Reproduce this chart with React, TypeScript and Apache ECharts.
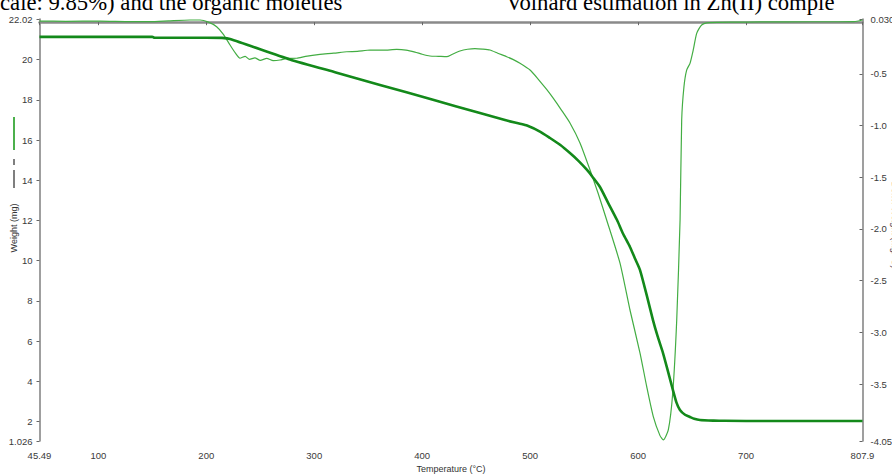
import React, { useEffect, useRef } from "react";
import * as echarts from "echarts";

// Temperature ticks
const xTicks = [45.49, 100, 200, 300, 400, 500, 600, 700, 807.9];
const leftTicks = [1.026, 2, 4, 6, 8, 10, 12, 14, 16, 18, 20, 22.02];
const rightTicks = [0.0307, -0.5, -1.0, -1.5, -2.0, -2.5, -3.0, -3.5, -4.051];

// Weight (mg) curve
const weightTemp = [45.49, 100, 150, 152, 200, 214.6, 222.0, 277.5, 320, 360.9, 410, 453.5, 476.7, 490.6, 497.1, 509.1, 518.4, 528, 536.9, 545, 552.7, 558, 564.7, 572, 580.5, 586, 592.5, 597, 601.8, 608, 613.8, 618, 623.1, 628, 632.3, 635.5, 638.8, 643.5, 648.1, 652, 657.3, 670, 680, 720, 807.9];
const weightValue = [21.13, 21.13, 21.13, 21.09, 21.09, 21.08, 21.03, 20.01, 19.36, 18.74, 18.0, 17.34, 16.99, 16.81, 16.72, 16.42, 16.10, 15.75, 15.35, 14.95, 14.51, 14.15, 13.66, 12.9, 12.02, 11.35, 10.68, 10.12, 9.53, 8.28, 7.04, 6.25, 5.40, 4.43, 3.56, 2.95, 2.57, 2.33, 2.22, 2.13, 2.07, 2.04, 2.03, 2.02, 2.02];

// Derivative weight (right axis) curve
const dtgTemp = [45.49, 70, 101.5, 130, 147.9, 165, 184.9, 194.2, 202, 209.6, 216, 222.0, 227, 231.2, 236, 240, 245, 250, 256, 262, 268.3, 275, 283.8, 292, 305.3, 318, 330.1, 340, 351.7, 364, 376.4, 385, 393.3, 400, 407.2, 415, 422.7, 428, 435.0, 442, 448.9, 456, 462.8, 470, 478.3, 484, 490.6, 499.9, 507, 515.3, 521.2, 529, 536.9, 546.2, 555.5, 562.9, 570.9, 583.2, 592.5, 601.8, 608.0, 614.1, 620.3, 623.4, 628.0, 632.1, 635.8, 638.9, 640.4, 642.5, 645.0, 648.1, 651.1, 654.3, 658.9, 666.3, 690, 713, 760, 800, 807.9];
const dtgValue = [0.011, 0.008, 0.011, 0.006, 0.006, 0.013, 0.021, 0.021, 0.0, -0.044, -0.12, -0.221, -0.3, -0.349, -0.33, -0.36, -0.345, -0.37, -0.35, -0.372, -0.366, -0.35, -0.349, -0.33, -0.311, -0.3, -0.286, -0.282, -0.269, -0.27, -0.264, -0.27, -0.289, -0.31, -0.327, -0.33, -0.334, -0.31, -0.279, -0.262, -0.255, -0.26, -0.269, -0.3, -0.334, -0.36, -0.398, -0.463, -0.545, -0.651, -0.733, -0.85, -0.975, -1.168, -1.43, -1.652, -1.913, -2.329, -2.784, -3.2, -3.525, -3.815, -3.999, -4.041, -3.944, -3.586, -2.88, -1.913, -0.946, -0.624, -0.463, -0.398, -0.269, -0.108, -0.027, -0.005, 0.0, 0.002, 0.004, 0.006, 0.021];

const labelFont = "'Liberation Sans', Arial, sans-serif";
const serifFont = "22.7px 'Liberation Serif', 'Times New Roman', serif";

export default function App() {
  const ref = useRef<HTMLDivElement>(null);
  useEffect(() => {
    document.body.style.margin = "0";
    const chart = echarts.init(ref.current!, null, { renderer: "svg" });
    const weightData = weightTemp.map((t, i) => [t, weightValue[i]]);
    const dtgData = dtgTemp.map((t, i) => [t, dtgValue[i]]);
    const axisLabelBase = { color: "#3a3a3a", fontSize: 9.5, fontFamily: labelFont };
    chart.setOption({
      animation: false,
      backgroundColor: "#ffffff",
      grid: { left: 39.5, right: 29.5, top: 19, bottom: 33, outerBoundsMode: "none" },
      xAxis: {
        type: "value",
        min: 45.49,
        max: 807.9,
        axisLine: { lineStyle: { color: "#8a8a8a", width: 2.5 } },
        axisTick: { customValues: xTicks, length: 3, lineStyle: { color: "#666" } },
        axisLabel: {
          ...axisLabelBase,
          customValues: xTicks,
          margin: 9,
          formatter: (v: number) => String(v),
        },
        splitLine: { show: false },
      },
      yAxis: [
        {
          type: "value",
          min: 1.026,
          max: 22.02,
          axisLine: { show: true, lineStyle: { color: "#7f7f7f", width: 1.5 } },
          axisTick: { show: true, customValues: leftTicks, length: 3, lineStyle: { color: "#666" } },
          axisLabel: {
            ...axisLabelBase,
            customValues: leftTicks,
            margin: 7,
            formatter: (v: number) => String(v),
          },
          splitLine: { show: false },
        },
        {
          type: "value",
          position: "right",
          min: -4.051,
          max: 0.0307,
          axisLine: { show: true, lineStyle: { color: "#7f7f7f", width: 1.5 } },
          axisTick: { show: true, inside: true, customValues: rightTicks, length: 3, lineStyle: { color: "#666" } },
          axisLabel: {
            ...axisLabelBase,
            customValues: rightTicks,
            margin: 8,
            formatter: (v: number) =>
              v === 0.0307 ? "0.0307" : v === -4.051 ? "-4.051" : v.toFixed(1),
          },
          splitLine: { show: false },
        },
      ],
      series: [
        {
          type: "line",
          name: "Deriv",
          yAxisIndex: 1,
          data: dtgData,
          showSymbol: false,
          smooth: 0.2,
          lineStyle: { color: "#43ad43", width: 1.2 },
          z: 2,
        },
        {
          type: "line",
          name: "Weight",
          yAxisIndex: 0,
          data: weightData,
          showSymbol: false,
          smooth: 0.2,
          lineStyle: { color: "#13891a", width: 2.6, join: "round" },
          z: 3,
        },
      ],
      graphic: [
        {
          type: "text",
          x: 0,
          y: -9,
          style: { text: "cale: 9.85%) and the organic moieties", font: serifFont, fill: "#000" },
          z: 10,
        },
        {
          type: "text",
          x: 506,
          y: -9,
          style: { text: "Volhard estimation in Zn(II) comple", font: serifFont, fill: "#000" },
          z: 10,
        },
        {
          type: "line",
          shape: { x1: 14, y1: 117, x2: 14, y2: 150 },
          style: { stroke: "#4cb04c", lineWidth: 2 },
        },
        {
          type: "line",
          shape: { x1: 14, y1: 159, x2: 14, y2: 165 },
          style: { stroke: "#555", lineWidth: 1.5 },
        },
        {
          type: "line",
          shape: { x1: 14, y1: 170, x2: 14, y2: 188 },
          style: { stroke: "#555", lineWidth: 1.5 },
        },
        {
          type: "text",
          x: 14,
          y: 228,
          rotation: Math.PI / 2,
          style: {
            text: "Weight (mg)",
            font: "9px " + labelFont,
            fill: "#333",
            align: "center",
            verticalAlign: "middle",
          },
        },
        {
          type: "text",
          x: 895,
          y: 225,
          rotation: -Math.PI / 2,
          style: {
            text: "Deriv. Weight (mg/°C)",
            font: "9px " + labelFont,
            fill: "#4a3a50",
            align: "center",
            verticalAlign: "middle",
          },
        },
        {
          type: "text",
          x: 451,
          y: 469,
          style: {
            text: "Temperature (°C)",
            font: "9px " + labelFont,
            fill: "#333",
            align: "center",
            verticalAlign: "middle",
          },
        },
      ],
    });
    return () => chart.dispose();
  }, []);
  return <div ref={ref} style={{ width: 892, height: 474 }} />;
}
